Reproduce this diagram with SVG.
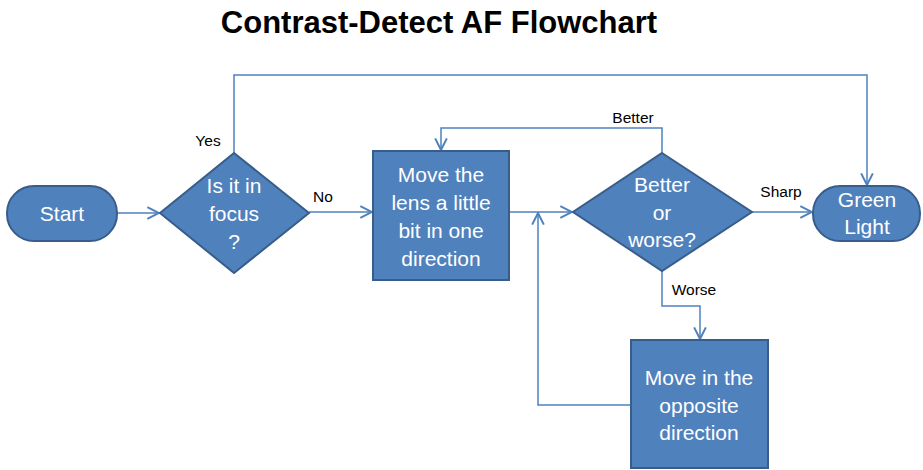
<svg xmlns="http://www.w3.org/2000/svg" width="923" height="470" viewBox="0 0 923 470">
<style>
.shape{fill:#4F81BD;stroke:#385D8A;stroke-width:2}
.nt{fill:#FFFFFF;font-family:"Liberation Sans",Arial,sans-serif;font-size:21px;text-anchor:middle}
.lbl{fill:#000000;font-family:"Liberation Sans",Arial,sans-serif;font-size:15.5px;text-anchor:middle}
.title{fill:#000000;font-family:"Liberation Sans",Arial,sans-serif;font-size:31px;font-weight:bold;text-anchor:middle}
.conn{fill:none;stroke:#4F81BD;stroke-width:1.5}
</style>
<defs>
<marker id="arr" markerUnits="userSpaceOnUse" markerWidth="14" markerHeight="14" viewBox="0 0 12 12" refX="11" refY="6" orient="auto">
<path d="M1,1 L11,6 L1,11" fill="none" stroke="#4F81BD" stroke-width="1.7"/>
</marker>
</defs>
<rect width="923" height="470" fill="#FFFFFF"/>
<text class="title" x="439" y="33">Contrast-Detect AF Flowchart</text>

<g id="connectors">
<path class="conn" d="M117,213 L159,213" marker-end="url(#arr)"/>
<path class="conn" d="M234,153 L234,75 L867,75 L867,185" marker-end="url(#arr)"/>
<path class="conn" d="M309,212 L372,212" marker-end="url(#arr)"/>
<path class="conn" d="M509,212 L572,212" marker-end="url(#arr)"/>
<path class="conn" d="M662,153 L662,128 L441,128 L441,150" marker-end="url(#arr)"/>
<path class="conn" d="M752,212 L812,212" marker-end="url(#arr)"/>
<path class="conn" d="M662,271 L662,306 L700,306 L700,339" marker-end="url(#arr)"/>
<path class="conn" d="M631,405 L538,405 L538,213" marker-end="url(#arr)"/>
<text class="lbl" x="208" y="146">Yes</text>
<text class="lbl" x="323" y="202">No</text>
<text class="lbl" x="633" y="123">Better</text>
<text class="lbl" x="781" y="197">Sharp</text>
<text class="lbl" x="694" y="295">Worse</text>
</g>

<g id="start">
<rect class="shape" x="7" y="186" width="110" height="55" rx="27" ry="27"/>
<text class="nt" x="62" y="221">Start</text>
</g>

<g id="in-focus">
<polygon class="shape" points="234,153 309,213 234,273 160,213"/>
<text class="nt" x="234" y="193">Is it in</text>
<text class="nt" x="234" y="221">focus</text>
<text class="nt" x="234" y="249">?</text>
</g>

<g id="move-lens">
<rect class="shape" x="373" y="151" width="136" height="129"/>
<text class="nt" x="441" y="182">Move the</text>
<text class="nt" x="441" y="210">lens a little</text>
<text class="nt" x="441" y="238">bit in one</text>
<text class="nt" x="441" y="266">direction</text>
</g>

<g id="better-worse">
<polygon class="shape" points="662,153 752,212 662,271 573,212"/>
<text class="nt" x="662" y="192">Better</text>
<text class="nt" x="662" y="220">or</text>
<text class="nt" x="662" y="247">worse?</text>
</g>

<g id="green-light">
<rect class="shape" x="813" y="186" width="107" height="55" rx="27" ry="27"/>
<text class="nt" x="867" y="207">Green</text>
<text class="nt" x="867" y="234">Light</text>
</g>

<g id="move-opposite">
<rect class="shape" x="631" y="340" width="137" height="128"/>
<text class="nt" x="699" y="385">Move in the</text>
<text class="nt" x="699" y="413">opposite</text>
<text class="nt" x="699" y="440">direction</text>
</g>
</svg>
